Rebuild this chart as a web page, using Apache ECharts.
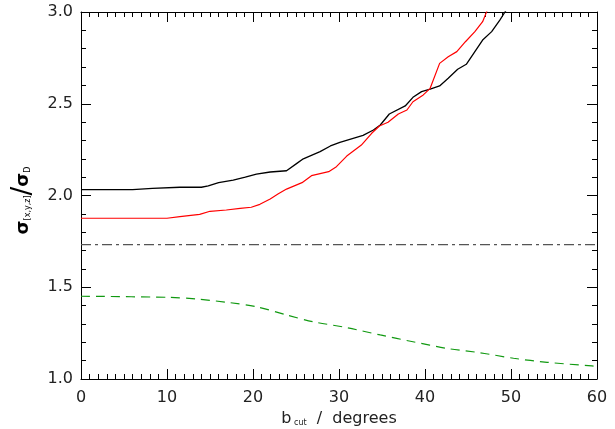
<!DOCTYPE html>
<html>
<head>
<meta charset="utf-8">
<script src="https://cdn.jsdelivr.net/npm/echarts@6/dist/echarts.min.js"></script>
<style>html,body{margin:0;padding:0;background:#fff}#c{width:615px;height:429px}</style>
</head>
<body>
<div id="c"></div>
<script>
// Data
const blackX = [0, 6.0, 8.3, 11.5, 14.0, 14.8, 16.0, 17.7, 19.1, 20.4, 22.0, 23.9, 25.1, 25.85, 27.8, 29.0, 30.1, 32.8, 34.0, 34.8, 35.85, 37.7, 38.6, 39.6, 40.6, 41.7, 42.7, 43.8, 44.8, 46.7, 47.75, 48.7, 49.3, 50.0];
const blackY = [2.032, 2.032, 2.039, 2.045, 2.045, 2.052, 2.070, 2.084, 2.100, 2.116, 2.128, 2.135, 2.175, 2.200, 2.239, 2.270, 2.290, 2.328, 2.357, 2.384, 2.444, 2.488, 2.535, 2.566, 2.580, 2.597, 2.639, 2.688, 2.715, 2.847, 2.893, 2.956, 3.000, 3.05];
const redX = [0, 10.0, 11.5, 13.8, 15.0, 16.9, 18.5, 19.8, 20.8, 22.0, 22.9, 23.9, 25.7, 26.8, 28.8, 29.7, 30.9, 32.6, 33.8, 34.7, 35.7, 36.9, 37.9, 38.6, 39.8, 40.6, 41.7, 42.7, 43.7, 44.7, 45.8, 46.7, 47.2, 47.6];
const redY = [1.876, 1.876, 1.885, 1.897, 1.914, 1.921, 1.930, 1.936, 1.952, 1.981, 2.008, 2.035, 2.070, 2.108, 2.130, 2.157, 2.215, 2.275, 2.339, 2.379, 2.399, 2.444, 2.466, 2.511, 2.548, 2.584, 2.720, 2.756, 2.784, 2.838, 2.893, 2.947, 3.005, 3.05];
const greenX = [0, 10.3, 13.4, 17.3, 20.4, 23.9, 27.0, 30.9, 34.8, 38.6, 42.5, 46.4, 50.3, 54.2, 59.4, 60];
const greenY = [1.451, 1.445, 1.436, 1.416, 1.394, 1.349, 1.312, 1.280, 1.240, 1.203, 1.167, 1.143, 1.113, 1.091, 1.071, 1.068];
const refX = [0, 60];
const refY = [1.732, 1.732];
const xTicks = [0, 10, 20, 30, 40, 50, 60];
const yTicks = [1.0, 1.5, 2.0, 2.5, 3.0];

const pairs = (xs, ys) => xs.map((x, i) => [x, ys[i]]);
const chart = echarts.init(document.getElementById('c'));
const font = 'DejaVu Sans';
const axisLine = () => ({ show: true, onZero: false, lineStyle: { color: '#000', width: 1 } });
const tick = () => ({ show: true, inside: true, length: 10, lineStyle: { color: '#000', width: 1 } });
const minor = (n) => ({ show: true, splitNumber: n, length: 5, lineStyle: { color: '#000', width: 1 } });
chart.setOption({
  animation: false,
  backgroundColor: '#fff',
  grid: { left: 81, right: 18, top: 12, bottom: 50, containLabel: false, outerBoundsMode: 'none' },
  xAxis: [{
    type: 'value', min: xTicks[0], max: xTicks[xTicks.length - 1], interval: 10, position: 'bottom',
    axisLine: axisLine(), axisTick: tick(), minorTick: minor(10), splitLine: { show: false },
    axisLabel: { margin: 11, fontFamily: font, fontSize: 16, color: '#222' },
    name: '{b|b}{s| cut}{b|  /  degrees}', nameLocation: 'middle', nameGap: 31,
    nameTextStyle: { rich: { b: { fontFamily: font, fontSize: 16, color: '#222' }, s: { fontFamily: font, fontSize: 8, color: '#222', padding: [8, 0, 0, 0] } } }
  }, {
    type: 'value', min: 0, max: 60, interval: 10, position: 'top',
    axisLine: axisLine(), axisTick: tick(), minorTick: minor(10), splitLine: { show: false }, axisLabel: { show: false }
  }],
  yAxis: [{
    type: 'value', min: yTicks[0], max: yTicks[yTicks.length - 1], interval: 0.5, position: 'left',
    axisLine: axisLine(), axisTick: tick(), minorTick: minor(5), splitLine: { show: false },
    axisLabel: { margin: 8, fontFamily: font, fontSize: 16, color: '#222', formatter: v => v.toFixed(1) },
    name: '{g|σ}{s|[x,y,z]}{sl|/}{g|σ}{s|D}', nameLocation: 'middle', nameRotate: 90, nameGap: 38,
    nameTextStyle: { padding: [0, 10, 0, 0], rich: {
      g: { fontFamily: font, fontSize: 18, fontWeight: 'bold', color: '#000' },
      s: { fontFamily: font, fontSize: 8, color: '#000', padding: [8, 0, 0, 0] },
      sl: { fontFamily: font, fontSize: 26, color: '#000' }
    } }
  }, {
    type: 'value', min: 1, max: 3, interval: 0.5, position: 'right',
    axisLine: axisLine(), axisTick: tick(), minorTick: minor(5), splitLine: { show: false }, axisLabel: { show: false }
  }],
  series: [
    { type: 'line', data: pairs(blackX, blackY), symbol: 'none', clip: true, lineStyle: { color: '#000', width: 1.3 } },
    { type: 'line', data: pairs(redX, redY), symbol: 'none', clip: true, lineStyle: { color: '#ff0000', width: 1.2 } },
    { type: 'line', data: pairs(refX, refY), symbol: 'none', lineStyle: { color: '#555', width: 1.3, type: [10, 4, 3, 4] } },
    { type: 'line', data: pairs(greenX, greenY), symbol: 'none', smooth: 0.3, lineStyle: { color: '#119911', width: 1.2, type: [9, 6] } }
  ]
});
</script>
</body>
</html>
